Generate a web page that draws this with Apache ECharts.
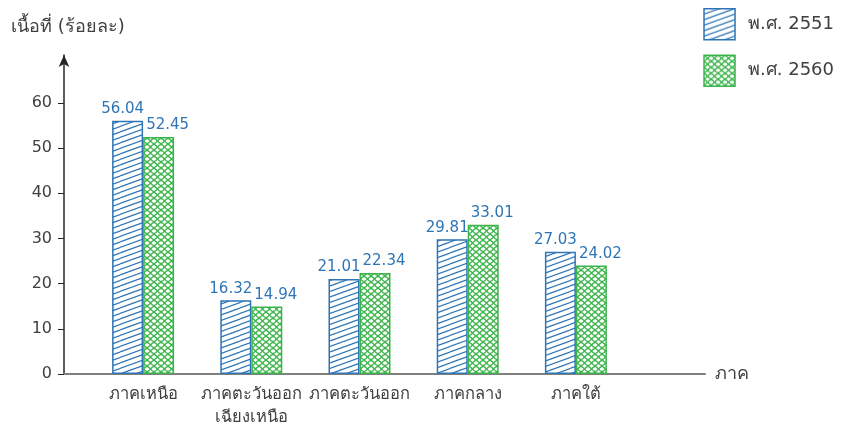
<!DOCTYPE html>
<html>
<head>
<meta charset="utf-8">
<script src="https://cdn.jsdelivr.net/npm/echarts@6/dist/echarts.min.js"></script>
<style>html,body{margin:0;padding:0;background:#fff}#c{width:843px;height:425px}</style>
</head>
<body>
<div id="c"></div>
<script>
const categories = ['ภาคเหนือ', 'ภาคตะวันออก\nเฉียงเหนือ', 'ภาคตะวันออก', 'ภาคกลาง', 'ภาคใต้'];
const values2551 = [56.04, 16.32, 21.01, 29.81, 27.03];
const values2560 = [52.45, 14.94, 22.34, 33.01, 24.02];
const seriesNames = ['พ.ศ. 2551', 'พ.ศ. 2560'];
const yTicks = [0, 10, 20, 30, 40, 50, 60];
const yTitle = 'เนื้อที่ (ร้อยละ)';
const xName = 'ภาค';

const BLUE = '#2E75B6';
const GREEN = '#3CB44B';
const FONT = "Tahoma, 'DejaVu Sans', sans-serif";

function hatchBlue() {
  const W = 30, H = 11;
  const c = document.createElement('canvas');
  c.width = W; c.height = H;
  const g = c.getContext('2d');
  g.fillStyle = '#fff'; g.fillRect(0, 0, W, H);
  g.strokeStyle = BLUE; g.lineWidth = 1.2;
  for (const dy of [-H, -H / 2, 0, H / 2, H]) {
    g.beginPath(); g.moveTo(0, H + dy); g.lineTo(W, dy); g.stroke();
  }
  return c;
}
function hatchGreen() {
  const W = 14, H = 6;
  const c = document.createElement('canvas');
  c.width = W; c.height = H;
  const g = c.getContext('2d');
  g.fillStyle = '#fff'; g.fillRect(0, 0, W, H);
  g.strokeStyle = GREEN; g.lineWidth = 1.4;
  const a = 2.4;
  for (const dy of [-H, 0, H]) {
    for (const s of [1, -1]) {
      g.beginPath();
      for (let x = 0; x <= W; x += 0.5) {
        const y = H / 2 + dy + s * a * Math.cos(2 * Math.PI * x / W);
        if (x === 0) g.moveTo(x, y); else g.lineTo(x, y);
      }
      g.stroke();
    }
  }
  return c;
}
const patBlue = { image: hatchBlue(), repeat: 'repeat' };
const patGreen = { image: hatchGreen(), repeat: 'repeat' };

const YMAX = 70.6;
const chart = echarts.init(document.getElementById('c'), null, { renderer: 'canvas' });
chart.setOption({
  animation: false,
  textStyle: { fontFamily: FONT },
  title: {
    text: yTitle, left: 6, top: 13,
    textStyle: { fontSize: 18, fontWeight: 'normal', color: '#404040', fontFamily: FONT }
  },
  legend: {
    orient: 'vertical', right: 4, top: 3,
    itemWidth: 31, itemHeight: 31, itemGap: 14,
    icon: 'rect',
    textStyle: { fontSize: 18, color: '#404040', fontFamily: FONT, padding: [0, 0, 0, 8] },
    data: [
      { name: seriesNames[0], itemStyle: { color: patBlue, borderColor: BLUE, borderWidth: 1.5 } },
      { name: seriesNames[1], itemStyle: { color: patGreen, borderColor: GREEN, borderWidth: 1.5 } }
    ]
  },
  grid: [
    { left: 89, right: 213, top: 55, bottom: 51, outerBoundsMode: 'none', containLabel: false },
    { left: 64, right: 138, top: 55, bottom: 51, outerBoundsMode: 'none', containLabel: false }
  ],
  xAxis: [
    {
      type: 'category', gridIndex: 0, data: categories,
      axisLine: { show: false }, axisTick: { show: false },
      axisLabel: { interval: 0, fontSize: 16.5, color: '#404040', margin: 9, lineHeight: 23, fontFamily: FONT }
    },
    {
      type: 'value', gridIndex: 1, min: 0, max: 1,
      axisLine: { show: true, lineStyle: { color: '#808080', width: 2 } },
      axisTick: { show: false }, axisLabel: { show: false }, splitLine: { show: false },
      name: xName, nameLocation: 'end', nameGap: 10,
      nameTextStyle: { fontSize: 18, color: '#404040', fontFamily: FONT }
    }
  ],
  yAxis: [
    { type: 'value', gridIndex: 0, min: 0, max: YMAX, show: false },
    {
      type: 'value', gridIndex: 1, min: 0, max: YMAX,
      axisLine: { show: true, symbol: ['none', 'arrow'], symbolSize: [8, 12], lineStyle: { color: '#262626', width: 1.5 } },
      axisTick: { show: true, length: 6, customValues: yTicks, lineStyle: { color: '#262626' } },
      axisLabel: { customValues: yTicks, fontSize: 16, color: '#404040', margin: 12, fontFamily: FONT },
      splitLine: { show: false }
    }
  ],
  series: [
    {
      name: seriesNames[0], type: 'bar', xAxisIndex: 0, yAxisIndex: 0,
      data: values2551, barWidth: 31, barGap: '0%',
      itemStyle: { color: patBlue, borderColor: BLUE, borderWidth: 1.5 },
      label: { show: true, position: 'top', distance: 4, offset: [-5, 0], color: BLUE, fontSize: 15, fontFamily: FONT, formatter: p => p.value.toFixed(2) }
    },
    {
      name: seriesNames[1], type: 'bar', xAxisIndex: 0, yAxisIndex: 0,
      data: values2560, barWidth: 31, barGap: '0%',
      itemStyle: { color: patGreen, borderColor: GREEN, borderWidth: 1.5 },
      label: { show: true, position: 'top', distance: 4, offset: [9, 0], color: BLUE, fontSize: 15, fontFamily: FONT, formatter: p => p.value.toFixed(2) }
    }
  ]
});
</script>
</body>
</html>
